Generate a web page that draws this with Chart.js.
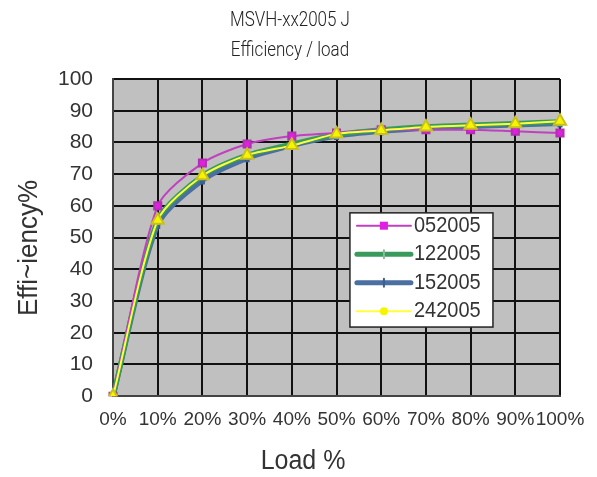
<!DOCTYPE html>
<html>
<head>
<meta charset="utf-8">
<style>
  html, body { margin: 0; padding: 0; background: #fff; }
  #wrap { width: 597px; height: 477px; }
</style>
<script src="https://cdn.jsdelivr.net/npm/chart.js@4/dist/chart.umd.min.js"></script>
</head>
<body>
<div id="wrap"><canvas id="effChart" width="597" height="477"></canvas></div>
<script>
const loadLabels = ['0%', '10%', '20%', '30%', '40%', '50%', '60%', '70%', '80%', '90%', '100%'];
const eff052005 = [0, 60, 73.5, 79.5, 82, 83, 84, 84, 84, 83.5, 83];
const eff122005 = [0, 55.5, 69.5, 76, 79.5, 82.5, 84, 85, 85.5, 86, 86.5];
const eff152005 = [0, 54, 68, 75, 79, 82, 83.5, 84.5, 85, 85.5, 86];
const eff242005 = [0, 55.5, 69.5, 76, 79, 82.7, 83.8, 84.9, 85.4, 85.9, 86.7];
const yTicks = [0, 10, 20, 30, 40, 50, 60, 70, 80, 90, 100];
const titleLines = ['MSVH-xx2005 J', 'Efficiency / load'];
const xTitle = 'Load %';
const yTitle = 'Effi~iency%';

const ARIAL = '"Liberation Sans", Arial, sans-serif';

// grey plot background like the old Excel chart
const plotBg = {
  id: 'plotBg',
  beforeDraw(chart) {
    const { ctx, chartArea: a } = chart;
    ctx.save();
    ctx.fillStyle = '#c0c0c0';
    ctx.fillRect(a.left, a.top, a.right - a.left, a.bottom - a.top);
    ctx.restore();
  }
};

// titles drawn by hand, the source image is a bit stretched vertically
const texts = {
  id: 'texts',
  afterDraw(chart) {
    const { ctx, chartArea: a } = chart;
    const put = (txt, x, y, font, color, rot, sy) => {
      ctx.save();
      ctx.translate(x, y);
      if (rot) ctx.rotate(rot);
      ctx.scale(1, sy);
      ctx.font = font;
      ctx.fillStyle = color;
      ctx.textAlign = 'center';
      ctx.textBaseline = 'middle';
      ctx.fillText(txt, 0, 0);
      ctx.restore();
    };
    put(titleLines[0], 290, 21, '300 17px Roboto', '#222', 0, 1.15);
    put(titleLines[1], 290, 51, '300 17px Roboto', '#222', 0, 1.15);
    put(xTitle, a.left + 190, 461, '25px ' + ARIAL, '#333', 0, 1.1);
    put(yTitle, 29, 248, '26px ' + ARIAL, '#333', -Math.PI / 2, 1.05);
  }
};

// boxed legend sitting inside the plot
const boxLegend = {
  id: 'boxLegend',
  afterDraw(chart) {
    const { ctx, chartArea: a } = chart;
    const w = a.right - a.left, h = a.bottom - a.top;
    const x0 = a.left + w * 0.53, y0 = a.top + h * 0.422;
    const bw = w * 0.32, bh = h * 0.36;
    ctx.save();
    ctx.fillStyle = '#fff';
    ctx.fillRect(x0, y0, bw, bh);
    ctx.strokeStyle = '#222';
    ctx.lineWidth = 1.5;
    ctx.strokeRect(x0, y0, bw, bh);
    const rowH = bh / 4;
    chart.data.datasets.forEach((ds, i) => {
      const y = y0 + rowH * (i + 0.45);
      const lx1 = x0 + 7, lx2 = x0 + 61;
      ctx.strokeStyle = ds.borderColor;
      ctx.lineWidth = ds.borderWidth;
      ctx.lineCap = 'round';
      ctx.beginPath();
      ctx.moveTo(lx1, y);
      ctx.lineTo(lx2, y);
      ctx.stroke();
      const mx = (lx1 + lx2) / 2;
      ctx.fillStyle = ds.pointBackgroundColor;
      if (ds.pointStyle === 'rect') {
        ctx.fillRect(mx - 4, y - 4, 8, 8);
      } else if (ds.pointStyle === 'triangle') {
        ctx.beginPath();
        ctx.arc(mx, y, 4, 0, Math.PI * 2);
        ctx.fill();
      } else {
        ctx.strokeStyle = ds.pointBorderColor;
        ctx.lineWidth = 2;
        ctx.beginPath();
        ctx.moveTo(mx, y - 4);
        ctx.lineTo(mx, y + 4);
        ctx.stroke();
      }
      ctx.save();
      ctx.translate(lx2 + 3, y);
      ctx.scale(1, 1.1);
      ctx.fillStyle = '#333';
      ctx.font = '20px ' + ARIAL;
      ctx.textBaseline = 'middle';
      ctx.fillText(ds.label, 0, 0);
      ctx.restore();
    });
    ctx.restore();
  }
};

const ctx = document.getElementById('effChart').getContext('2d');
const chart = new Chart(ctx, {
  type: 'line',
  data: {
    labels: loadLabels,
    datasets: [
      {
        label: '052005',
        data: eff052005,
        borderColor: '#c040c0',
        backgroundColor: '#e020e0',
        pointBackgroundColor: '#e020e0',
        pointBorderColor: '#b030b0',
        pointStyle: 'rect',
        pointRadius: 5,
        borderWidth: 2,
        tension: 0.25,
        order: 2
      },
      {
        label: '122005',
        data: eff122005,
        borderColor: '#3a9a5c',
        backgroundColor: '#3a9a5c',
        pointBackgroundColor: '#3a9a5c',
        pointBorderColor: '#8ab89a',
        pointStyle: 'line',
        pointRotation: 90,
        pointRadius: 4,
        borderWidth: 5,
        tension: 0.25,
        order: 3
      },
      {
        label: '152005',
        data: eff152005,
        borderColor: '#4a6fa0',
        backgroundColor: '#4a6fa0',
        pointBackgroundColor: '#4a6fa0',
        pointBorderColor: '#3d5f8f',
        pointStyle: 'line',
        pointRotation: 90,
        pointRadius: 4,
        borderWidth: 5,
        tension: 0.25,
        order: 4
      },
      {
        label: '242005',
        data: eff242005,
        borderColor: '#ffff40',
        backgroundColor: '#ffff00',
        pointBackgroundColor: '#f5f500',
        pointBorderColor: '#c8c020',
        pointStyle: 'triangle',
        pointRadius: 7,
        borderWidth: 2,
        tension: 0.25,
        order: 1
      }
    ]
  },
  options: {
    responsive: false,
    animation: false,
    layout: { padding: { left: 38, right: 37, top: 79, bottom: 34 } },
    plugins: {
      legend: { display: false },
      tooltip: { enabled: false },
      title: { display: false }
    },
    scales: {
      x: {
        offset: false,
        grid: { color: '#111', lineWidth: 2, drawTicks: false },
        border: { color: '#444', width: 2 },
        ticks: {
          color: '#333',
          maxRotation: 0,
          autoSkip: false,
          padding: 12,
          font: { family: ARIAL, size: 19 }
        }
      },
      y: {
        min: 0,
        max: 100,
        afterBuildTicks(axis) { axis.ticks = yTicks.map(v => ({ value: v })); },
        grid: { color: '#111', lineWidth: 2, drawTicks: false },
        border: { color: '#444', width: 2 },
        ticks: {
          color: '#333',
          padding: 20,
          font: { family: ARIAL, size: 21 }
        }
      }
    }
  },
  plugins: [plotBg, texts, boxLegend]
});
</script>
</body>
</html>
